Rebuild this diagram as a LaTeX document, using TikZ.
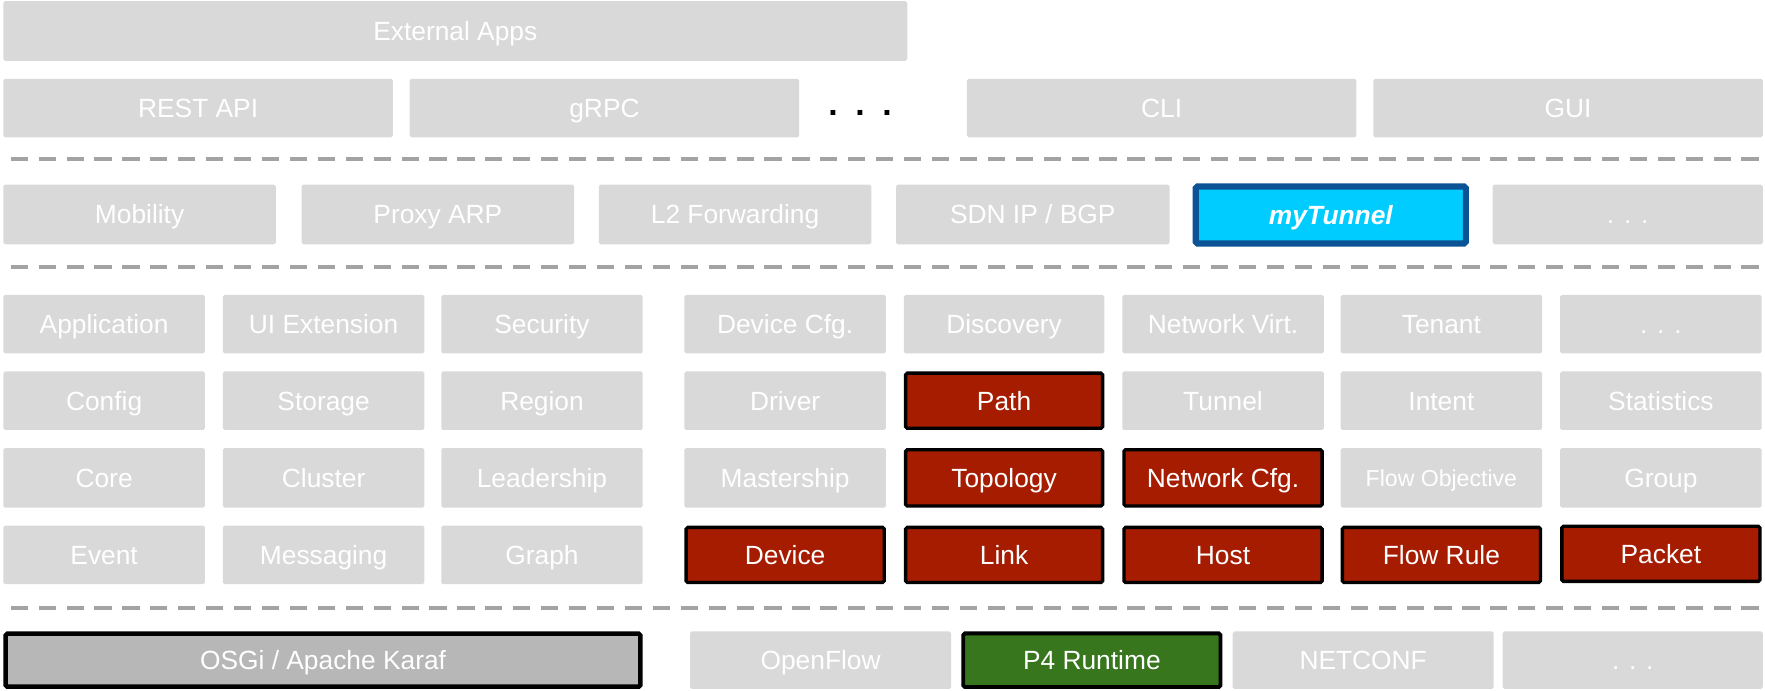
\documentclass[tikz,border=0pt]{standalone}
\usepackage{fontspec}
\setmainfont{Liberation Sans}
\definecolor{boxgray}{HTML}{D9D9D9}
\definecolor{boxred}{HTML}{A61C00}
\definecolor{boxgreen}{HTML}{38761D}
\definecolor{osgigray}{HTML}{B7B7B7}
\definecolor{tunfill}{HTML}{00CCFF}
\definecolor{tunborder}{HTML}{0B5394}
\definecolor{dashgray}{HTML}{A3A3A3}
\tikzset{
  box/.style={rectangle, rounded corners=1.5pt, inner sep=0pt, outer sep=0pt, text=white,
    font=\fontsize{23.4}{28}\selectfont, text height=16.8pt, text depth=0pt, align=center},
  gbox/.style={box, fill=boxgray},
  rbox/.style={box, fill=boxred, draw=black, line width=3pt},
  pbox/.style={box, fill=boxgreen, draw=black, line width=3.4pt},
  obox/.style={box, fill=osgigray, draw=black, line width=4pt},
  tbox/.style={box, fill=tunfill, draw=tunborder, line width=5.5pt, font=\fontsize{23.4}{28}\selectfont\bfseries\itshape},
  smalltext/.style={font=\fontsize{20.5}{24}\selectfont, text height=14.7pt},
  sep/.style={draw=dashgray, line width=3.6pt, dash pattern=on 15.3pt off 9.5pt},
}
% style, line width, name, x1, y1, x2, y2, text
\newcommand\bx[8]{%
  \node[#1, minimum width={((#6)-(#4)-(#2))*1pt}, minimum height={((#7)-(#5)-(#2))*1pt}]
    (#3) at ({((#4)+(#6))/2},{((#5)+(#7))/2}) {#8};}
\begin{document}
\begin{tikzpicture}[x=1pt,y=-1pt]
\useasboundingbox (0,0) rectangle (1568,613);
% row 1
\bx{gbox}{0}{ext}{3}{1}{806}{54}{External Apps}
% row 2
\bx{gbox}{0}{rest}{3}{70}{349}{122}{REST API}
\bx{gbox}{0}{grpc}{364}{70}{710}{122}{gRPC}
\node[anchor=base, inner sep=0pt, font=\fontsize{30}{30}\selectfont\bfseries] (dots) at (764,102.2) {.\hspace{15.7pt}.\hspace{15.7pt}.};
\bx{gbox}{0}{cli}{859}{70}{1205}{122}{CLI}
\bx{gbox}{0}{gui}{1220}{70}{1566}{122}{GUI}
\draw[sep] (9.5,141) -- (1566,141);
% row 3
\bx{gbox}{0}{mob}{3}{164}{245}{217}{Mobility}
\bx{gbox}{0}{parp}{268}{164}{510}{217}{Proxy ARP}
\bx{gbox}{0}{ltwo}{532}{164}{774}{217}{L2 Forwarding}
\bx{gbox}{0}{sdnip}{796}{164}{1039}{217}{SDN IP / BGP}
\bx{tbox}{5.5}{mytun}{1059.5}{163}{1305}{219}{myTunnel}
\bx{gbox}{0}{appmore}{1326}{164}{1566}{217}{. . .}
\draw[sep] (9.5,237) -- (1566,237);
% row 4
\bx{gbox}{0}{application}{3}{262}{182}{314}{Application}
\bx{gbox}{0}{uiext}{198}{262}{377}{314}{UI Extension}
\bx{gbox}{0}{security}{392}{262}{571}{314}{Security}
\bx{gbox}{0}{devcfg}{608}{262}{787}{314}{Device Cfg.}
\bx{gbox}{0}{discovery}{803}{262}{981}{314}{Discovery}
\bx{gbox}{0}{netvirt}{997}{262}{1176}{314}{Network Virt.}
\bx{gbox}{0}{tenant}{1191}{262}{1370}{314}{Tenant}
\bx{gbox}{0}{svcmore}{1386}{262}{1565}{314}{. . .}
% row 5
\bx{gbox}{0}{config}{3}{330}{182}{382}{Config}
\bx{gbox}{0}{storage}{198}{330}{377}{382}{Storage}
\bx{gbox}{0}{region}{392}{330}{571}{382}{Region}
\bx{gbox}{0}{driver}{608}{330}{787}{382}{Driver}
\bx{rbox}{3}{path}{803}{330}{981}{382}{Path}
\bx{gbox}{0}{tunnel}{997}{330}{1176}{382}{Tunnel}
\bx{gbox}{0}{intent}{1191}{330}{1370}{382}{Intent}
\bx{gbox}{0}{stats}{1386}{330}{1565}{382}{Statistics}
% row 6
\bx{gbox}{0}{core}{3}{398}{182}{451}{Core}
\bx{gbox}{0}{cluster}{198}{398}{377}{451}{Cluster}
\bx{gbox}{0}{leader}{392}{398}{571}{451}{Leadership}
\bx{gbox}{0}{master}{608}{398}{787}{451}{Mastership}
\bx{rbox}{3}{topo}{803}{398}{981}{451}{Topology}
\bx{rbox}{3}{netcfg}{997}{398}{1176}{451}{Network Cfg.}
\bx{gbox,smalltext}{0}{flowobj}{1191}{398}{1370}{451}{Flow Objective}
\bx{gbox}{0}{group}{1386}{398}{1565}{451}{Group}
% row 7
\bx{gbox}{0}{event}{3}{467}{182}{519}{Event}
\bx{gbox}{0}{messaging}{198}{467}{377}{519}{Messaging}
\bx{gbox}{0}{graph}{392}{467}{571}{519}{Graph}
\bx{rbox}{3}{device}{608}{467}{787}{519}{Device}
\bx{rbox}{3}{link}{803}{467}{981}{519}{Link}
\bx{rbox}{3}{host}{997}{467}{1176}{519}{Host}
\bx{rbox}{3}{flowrule}{1191}{467}{1370}{519}{Flow Rule}
\bx{rbox}{3}{packet}{1386}{466}{1565}{518}{Packet}
\draw[sep] (9.5,540) -- (1566,540);
% row 8
\bx{obox}{4}{osgi}{3}{561}{571}{612}{OSGi / Apache Karaf}
\bx{gbox}{0}{openflow}{613}{561}{845}{612}{OpenFlow}
\bx{pbox}{3.4}{pfour}{854}{561}{1086}{612}{P4 Runtime}
\bx{gbox}{0}{netconf}{1095}{561}{1327}{612}{NETCONF}
\bx{gbox}{0}{sbmore}{1335}{561}{1566}{612}{. . .}
\end{tikzpicture}
\end{document}
